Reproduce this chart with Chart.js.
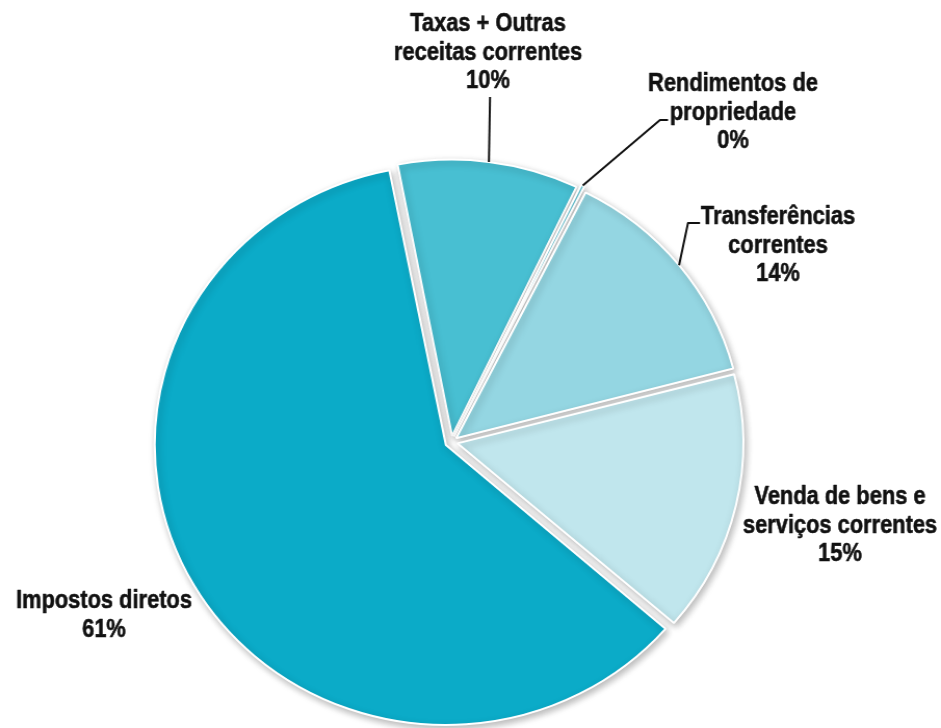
<!DOCTYPE html>
<html><head><meta charset="utf-8">
<script src="https://cdn.jsdelivr.net/npm/chart.js@4.4.1/dist/chart.umd.min.js"></script>
<style>html,body{margin:0;padding:0;background:#fff;overflow:hidden}canvas{display:block}</style>
</head><body>
<canvas id="c" width="905" height="728" style="width:941px;height:728px"></canvas>
<script>
const categories = ["Taxas + Outras receitas correntes", "Rendimentos de propriedade", "Transferências correntes", "Venda de bens e serviços correntes", "Impostos diretos"];
const labelLines = [["Taxas + Outras", "receitas correntes"], ["Rendimentos de", "propriedade"], ["Transferências", "correntes"], ["Venda de bens e", "serviços correntes"], ["Impostos diretos"]];
const shares = [10.2, 0.3, 13.5, 15.4, 60.6];
const sliceColors = ["#48bfd2", "#6fcbd9", "#94d6e2", "#c0e6ed", "#0babc8"];

// label layout in page pixels (text block centre x, first line middle y) and leader elbows
const labelX = [488, 733, 778, 840, 104];
const labelY = [24, 84, 217, 497, 601];
const leaderPts = [[[490, 97]], [[660, 120], [668, 120]], [[688, 223], [700, 223]], [], []];
const LINE_GAP = 28.5;
const FONT = "bold 26px 'Liberation Sans', Arial, sans-serif";
const SX = 941 / 905;          // horizontal stretch of the displayed canvas
const NARROW = 0.84 / SX;
const OFFSET = 24;

const shadowPlugin = {
  id: 'shadow',
  beforeDatasetsDraw(chart) {
    const c = chart.ctx; c.save();
    c.shadowColor = 'rgba(0,0,0,0.28)'; c.shadowBlur = 7; c.shadowOffsetX = 2; c.shadowOffsetY = 3;
  },
  afterDatasetsDraw(chart) { chart.ctx.restore(); }
};

const labelPlugin = {
  id: 'labels',
  afterDraw(chart) {
    const c = chart.ctx;
    const meta = chart.getDatasetMeta(0);
    c.save();
    c.font = FONT; c.fillStyle = '#111'; c.textAlign = 'center'; c.textBaseline = 'middle';
    c.strokeStyle = '#111'; c.lineJoin = 'round';
    meta.data.forEach((el, i) => {
      const p = el.getProps(['x', 'y', 'startAngle', 'endAngle', 'outerRadius', 'circumference'], true);
      const lines = labelLines[i].concat([Math.round(shares[i]) + '%']);
      lines.forEach((t, k) => {
        c.save();
        c.translate(labelX[i] / SX, labelY[i] + k * LINE_GAP);
        c.scale(NARROW, 1);
        c.lineWidth = 0.6;
        c.fillText(t, 0, 0);
        c.strokeText(t, 0, 0);
        c.restore();
      });
      if (leaderPts[i].length) {
        const mid = (p.startAngle + p.endAngle) / 2;
        const t = OFFSET / 4;
        const fix = 1 - Math.sin(Math.min(Math.PI, p.circumference));
        const r = p.outerRadius + t * fix + t;
        c.lineWidth = 2;
        c.beginPath();
        c.moveTo(p.x + Math.cos(mid) * r, p.y + Math.sin(mid) * r);
        leaderPts[i].forEach(q => c.lineTo(q[0] / SX, q[1]));
        c.stroke();
      }
    });
    c.restore();
  }
};

new Chart(document.getElementById('c'), {
  type: 'pie',
  data: {
    labels: categories,
    datasets: [{
      data: shares,
      backgroundColor: sliceColors,
      borderColor: '#ffffff',
      borderWidth: 2,
      offset: OFFSET,
      hoverOffset: OFFSET,
      radius: 274,
      clip: false
    }]
  },
  options: {
    responsive: false,
    animation: false,
    events: [],
    rotation: -11,
    devicePixelRatio: 1,
    layout: { padding: { left: 0, right: 37, top: 156, bottom: 0 } },
    plugins: { legend: { display: false }, tooltip: { enabled: false } }
  },
  plugins: [shadowPlugin, labelPlugin]
});
</script>
</body></html>
